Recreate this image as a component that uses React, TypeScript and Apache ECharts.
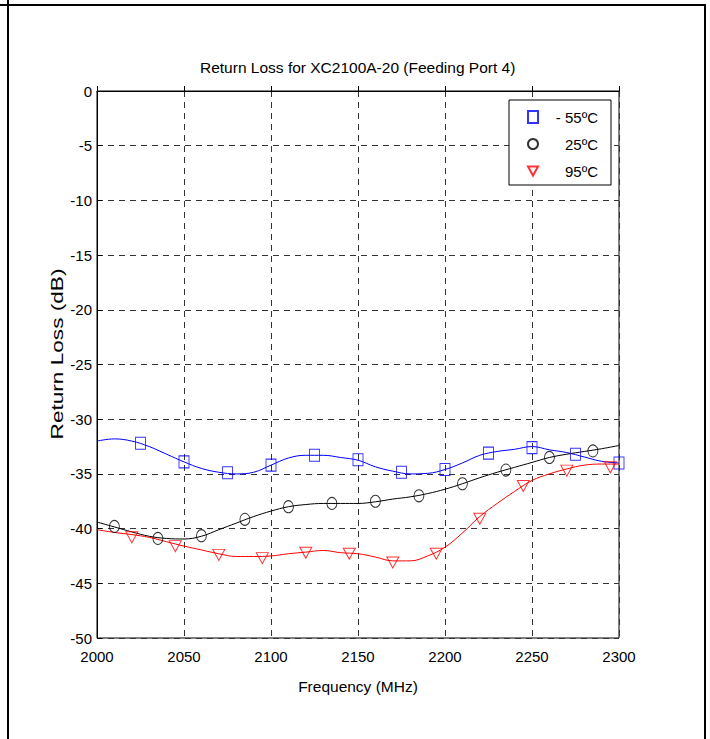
import React, { useEffect, useRef } from "react";
import * as echarts from "echarts";

const freqs = [2000, 2010, 2020, 2030, 2040, 2050, 2060, 2070, 2080, 2090, 2100, 2110, 2120, 2130, 2140, 2150, 2160, 2170, 2180, 2190, 2200, 2210, 2220, 2230, 2240, 2250, 2260, 2270, 2280, 2290, 2300];
const lineCold = [-32.0, -31.8, -32.0, -32.5, -33.2, -33.9, -34.5, -34.85, -35.0, -34.85, -34.2, -33.55, -33.3, -33.3, -33.5, -33.75, -34.35, -34.75, -35.0, -34.95, -34.6, -34.0, -33.3, -32.95, -32.75, -32.5, -32.8, -33.05, -33.45, -33.85, -34.0];
const lineRoom = [-39.4, -39.85, -40.3, -40.7, -40.9, -40.95, -40.7, -40.1, -39.5, -38.9, -38.4, -38.0, -37.8, -37.7, -37.7, -37.7, -37.55, -37.3, -37.1, -36.8, -36.4, -35.9, -35.35, -34.85, -34.4, -33.95, -33.5, -33.2, -32.95, -32.7, -32.4];
const lineHot = [-40.1, -40.35, -40.55, -40.8, -41.2, -41.6, -41.95, -42.3, -42.55, -42.55, -42.5, -42.3, -42.15, -42.0, -42.2, -42.3, -42.6, -42.95, -42.95, -42.5, -41.7, -40.4, -38.9, -37.7, -36.6, -35.6, -35.0, -34.55, -34.2, -34.1, -34.1];

const markFreqCold = [2025, 2050, 2075, 2100, 2125, 2150, 2175, 2200, 2225, 2250, 2275, 2300];
const markCold = [-32.2, -33.9, -34.9, -34.2, -33.3, -33.7, -34.85, -34.6, -33.1, -32.6, -33.2, -34.0];
const markFreqRoom = [2010, 2035, 2060, 2085, 2110, 2135, 2160, 2185, 2210, 2235, 2260, 2285];
const markRoom = [-39.8, -40.9, -40.65, -39.15, -38.0, -37.7, -37.5, -37.0, -35.9, -34.65, -33.5, -32.9];
const markFreqHot = [2020, 2045, 2070, 2095, 2120, 2145, 2170, 2195, 2220, 2245, 2270, 2295];
const markHot = [-40.8, -41.6, -42.4, -42.7, -42.2, -42.3, -43.1, -42.3, -39.1, -36.1, -34.7, -34.4];

const legendNames = ["- 55ºC", "25ºC", "95ºC"];
const colors = ["#0000ff", "#000000", "#ff0000"];

const titleText = "Return Loss for XC2100A-20 (Feeding Port 4)";
const xName = "Frequency (MHz)";
const yName = "Return Loss (dB)";

const SANS = "'Liberation Sans', Arial, sans-serif";

export default function App() {
  const ref = useRef<HTMLDivElement>(null);
  useEffect(() => {
    if (!ref.current) return;
    const chart = echarts.init(ref.current, undefined, { renderer: "svg" });
    const pairs = (xs: number[], ys: number[]) => xs.map((x, i) => [x, ys[i]]);
    const lines = [lineCold, lineRoom, lineHot];
    const marks = [
      pairs(markFreqCold, markCold),
      pairs(markFreqRoom, markRoom),
      pairs(markFreqHot, markHot),
    ];
    const symbols = ["rect", "circle", "triangle"];
    const sizes = [[10, 12], [10, 12], [12, 11]];
    const splitLine = { show: true, lineStyle: { color: "#333", type: [6, 5], width: 1 } };
    chart.setOption({
      animation: false,
      backgroundColor: "#fff",
      title: {
        text: titleText,
        left: 200,
        top: 59,
        padding: 0,
        textStyle: { fontFamily: SANS, fontSize: 15.5, fontWeight: "normal", color: "#000" },
      },
      grid: { left: 97, right: 91, top: 91, bottom: 101, show: true, borderColor: "#000", borderWidth: 1, backgroundColor: "transparent" },
      xAxis: {
        type: "value",
        min: 2000,
        max: 2300,
        interval: 50,
        name: xName,
        nameLocation: "middle",
        nameGap: 40,
        nameTextStyle: { fontFamily: SANS, fontSize: 15.5, color: "#000" },
        axisLine: { show: true, lineStyle: { color: "#000" } },
        axisTick: { show: true, inside: true, length: 5, lineStyle: { color: "#000" } },
        axisLabel: { fontFamily: SANS, fontSize: 15, color: "#000", margin: 11, formatter: (v: number) => String(v) },
        splitLine,
      },
      yAxis: {
        type: "value",
        min: -50,
        max: 0,
        interval: 5,
        axisLine: { show: true, lineStyle: { color: "#000" } },
        axisTick: { show: true, inside: true, length: 5, lineStyle: { color: "#000" } },
        axisLabel: { fontFamily: SANS, fontSize: 15, color: "#000", margin: 5, formatter: (v: number) => String(v) },
        splitLine,
      },
      legend: {
        orient: "vertical",
        left: 509,
        top: 100,
        padding: [9.5, 13, 6.5, 18],
        itemGap: 12,
        itemWidth: 10,
        itemHeight: 12,
        borderColor: "#000",
        borderWidth: 1,
        backgroundColor: "#fff",
        selectedMode: false,
        data: [
          { name: legendNames[0], icon: "rect" },
          { name: legendNames[1], icon: "circle" },
          { name: legendNames[2], icon: "path://M0,0L12,0L6,11Z" },
        ],
        formatter: (n: string) => `{t|${n}}`,
        textStyle: {
          rich: { t: { width: 55, align: "right", fontFamily: SANS, fontSize: 15, lineHeight: 17, color: "#000" } },
        },
      },
      series: [
        ...lines.map((ys, i) => ({
          id: "line" + i,
          type: "line",
          data: pairs(freqs, ys),
          smooth: 0.4,
          showSymbol: false,
          silent: true,
          lineStyle: { color: colors[i], width: 1 },
          itemStyle: { color: colors[i] },
          z: 3,
        })),
        ...marks.map((d, i) => ({
          name: legendNames[i],
          type: "scatter",
          data: d,
          symbol: symbols[i],
          symbolSize: sizes[i],
          symbolRotate: i === 2 ? 180 : 0,
          itemStyle: { color: "rgba(0,0,0,0)", borderColor: colors[i], borderWidth: 1 },
          z: 4,
        })),
      ],
      graphic: [
        { type: "line", shape: { x1: 0, y1: 5, x2: 706, y2: 5 }, style: { stroke: "#000", lineWidth: 2 } },
        { type: "line", shape: { x1: 8, y1: 0, x2: 8, y2: 739 }, style: { stroke: "#000", lineWidth: 2 } },
        { type: "line", shape: { x1: 705, y1: 4, x2: 705, y2: 739 }, style: { stroke: "#000", lineWidth: 2 } },
        {
          type: "text",
          x: 57,
          y: 354,
          rotation: Math.PI / 2,
          scaleX: 1.33,
          style: { text: yName, fontFamily: SANS, fontSize: 17, fill: "#000", align: "center", verticalAlign: "middle" },
        },
      ],
    });
    return () => chart.dispose();
  }, []);
  return <div ref={ref} style={{ position: "fixed", left: 0, top: 0, width: 710, height: 739, background: "#fff" }} />;
}
